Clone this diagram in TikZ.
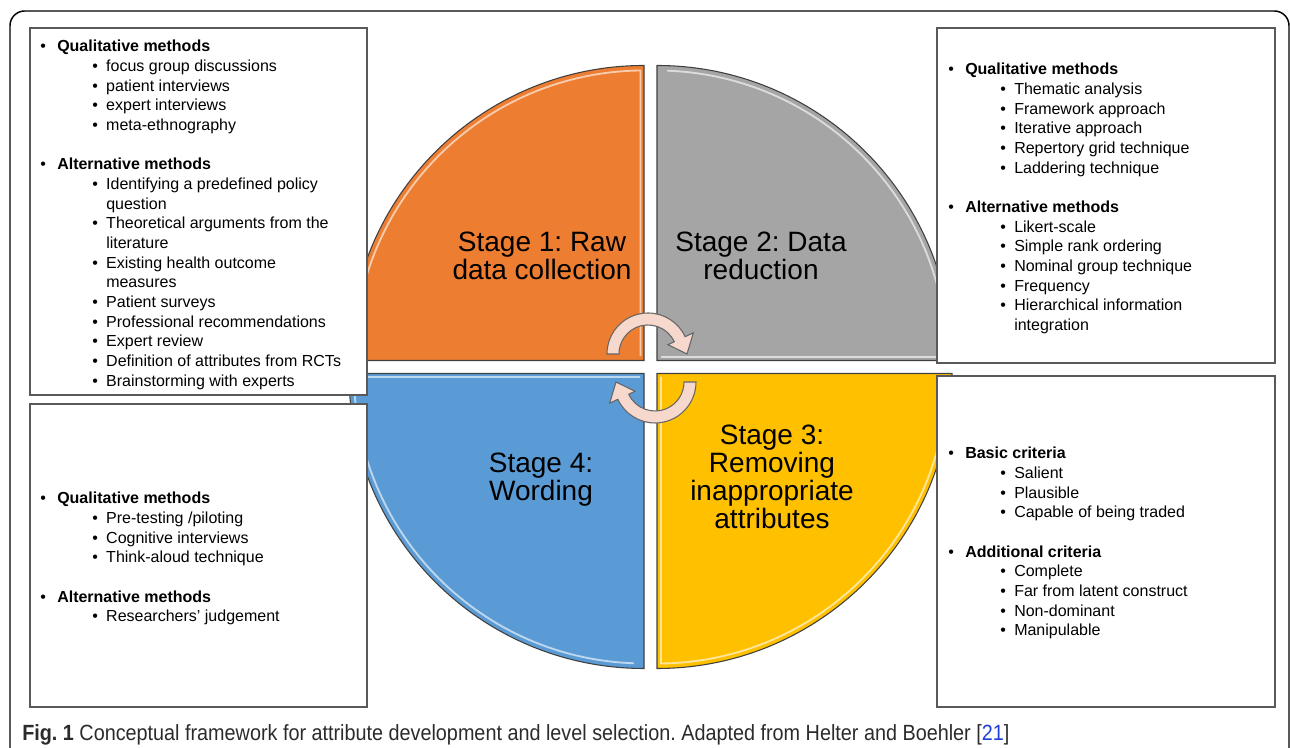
\documentclass[tikz,border=0pt]{standalone}
\usepackage{fontspec}
\setmainfont{Liberation Sans}
\newfontfamily\capfont[FakeStretch=0.9]{Liberation Sans}
\definecolor{stageorange}{HTML}{ED7D31}
\definecolor{stagegray}{HTML}{A5A5A5}
\definecolor{stageblue}{HTML}{5B9BD5}
\definecolor{stageyellow}{HTML}{FFC000}
\definecolor{cyclepink}{RGB}{247,216,205}
\definecolor{captext}{HTML}{2B2B2B}
\definecolor{citeblue}{HTML}{1F3FD8}
\newcommand{\mainpoint}[1]{\makebox[20.25pt][l]{\hspace{7.5pt}\textbullet}\textbf{#1}}
\newcommand{\subpoint}[1]{\makebox[57pt][l]{\hspace{46.5pt}\textbullet}#1}
\newcommand{\contline}[1]{\hspace*{57pt}#1}
\frenchspacing
\begin{document}
\begin{tikzpicture}[
  x=0.75pt, y=0.75pt,
  frame/.style={draw=black, line width=1.1pt, rounded corners=11pt},
  quad/.style={draw=black!75, line width=0.8pt},
  glint/.style={draw=white, line width=1.4pt, opacity=0.6},
  box/.style={draw=black!65, line width=0.9pt, fill=white},
  boxtext/.style={inner sep=0pt, anchor=north west, align=left,
                  font=\fontsize{12}{14.75}\selectfont},
  stage/.style={align=center, font=\fontsize{21}{21}\selectfont},
  cycle/.style={fill=cyclepink, draw=black!60, line width=0.8pt}
]
\useasboundingbox (0,0) rectangle (1290,748);

% Outer frame
\draw[frame] (10,737) rectangle (1289,-30);

% Quadrants
\draw[quad, fill=stageorange] (644,387.5) -- ++(-295,0) arc[start angle=180, end angle=90, radius=295] -- cycle;
\draw[quad, fill=stagegray] (657,387.5) -- ++(0,295) arc[start angle=90, end angle=0, radius=295] -- cycle;
\draw[quad, fill=stageblue] (644,374.5) -- ++(0,-295) arc[start angle=270, end angle=180, radius=295] -- cycle;
\draw[quad, fill=stageyellow] (657,374.5) -- ++(295,0) arc[start angle=0, end angle=-90, radius=295] -- cycle;

% Bevel highlights
\draw[glint] (640.5,392) -- (640.5,677.5) arc[start angle=90.7, end angle=178, radius=290];
\draw[glint] (661,391) -- (947,391) arc[start angle=0.7, end angle=88, radius=290];
\draw[glint] (640,371) -- (354,371) arc[start angle=180.7, end angle=268, radius=290];
\draw[glint] (661,371) -- (661,84.5) arc[start angle=270.7, end angle=358, radius=290];

% Method boxes
\draw[box] (30,720) rectangle (367,353);
\draw[box] (30,344) rectangle (367,41);
\draw[box] (937,720) rectangle (1275,385);
\draw[box] (937,372) rectangle (1275,41);

\node[boxtext] (collect) at (30,708) {%
  \mainpoint{Qualitative methods}\\
  \subpoint{focus group discussions}\\
  \subpoint{patient interviews}\\
  \subpoint{expert interviews}\\
  \subpoint{meta-ethnography}\\[14.75pt]
  \mainpoint{Alternative methods}\\
  \subpoint{Identifying a predefined policy}\\
  \contline{question}\\
  \subpoint{Theoretical arguments from the}\\
  \contline{literature}\\
  \subpoint{Existing health outcome}\\
  \contline{measures}\\
  \subpoint{Patient surveys}\\
  \subpoint{Professional recommendations}\\
  \subpoint{Expert review}\\
  \subpoint{Definition of attributes from RCTs}\\
  \subpoint{Brainstorming with experts}};

\node[boxtext] (reduce) at (938,685) {%
  \mainpoint{Qualitative methods}\\
  \subpoint{Thematic analysis}\\
  \subpoint{Framework approach}\\
  \subpoint{Iterative approach}\\
  \subpoint{Repertory grid technique}\\
  \subpoint{Laddering technique}\\[14.75pt]
  \mainpoint{Alternative methods}\\
  \subpoint{Likert-scale}\\
  \subpoint{Simple rank ordering}\\
  \subpoint{Nominal group technique}\\
  \subpoint{Frequency}\\
  \subpoint{Hierarchical information}\\
  \contline{integration}};

\node[boxtext] (remove) at (938,301) {%
  \mainpoint{Basic criteria}\\
  \subpoint{Salient}\\
  \subpoint{Plausible}\\
  \subpoint{Capable of being traded}\\[14.75pt]
  \mainpoint{Additional criteria}\\
  \subpoint{Complete}\\
  \subpoint{Far from latent construct}\\
  \subpoint{Non-dominant}\\
  \subpoint{Manipulable}};

\node[boxtext] (word) at (30,256) {%
  \mainpoint{Qualitative methods}\\
  \subpoint{Pre-testing /piloting}\\
  \subpoint{Cognitive interviews}\\
  \subpoint{Think-aloud technique}\\[14.75pt]
  \mainpoint{Alternative methods}\\
  \subpoint{Researchers' judgement}};

% Stage labels
\node[stage] (stageone) at (542,492) {Stage 1: Raw\\data collection};
\node[stage] (stagetwo) at (761,492) {Stage 2: Data\\reduction};
\node[stage] (stagethree) at (772,271) {Stage 3:\\Removing\\inappropriate\\attributes};
\node[stage] (stagefour) at (541,268) {Stage 4:\\Wording};

% Cycle arrows
\begin{scope}[shift={(648,394)}]
  \draw[cycle] (180:41) arc[start angle=180, end angle=25, radius=41] -- (25:50) -- (0:39)
    -- (25:22) -- (25:29) arc[start angle=25, end angle=180, radius=29] -- cycle;
\end{scope}
\begin{scope}[shift={(655,366)}]
  \draw[cycle] (0:41) arc[start angle=0, end angle=-155, radius=41] -- (-155:50) -- (-180:39)
    -- (-155:22) -- (-155:29) arc[start angle=-155, end angle=0, radius=29] -- cycle;
\end{scope}

% Caption
\node[anchor=base west, inner sep=0pt, text=captext,
      font=\capfont\fontsize{16.5}{19}\selectfont] (caption) at (22,7)
  {\textbf{Fig. 1} Conceptual framework for attribute development and level selection. Adapted from Helter and Boehler [{\color{citeblue}21}]};
\end{tikzpicture}
\end{document}
